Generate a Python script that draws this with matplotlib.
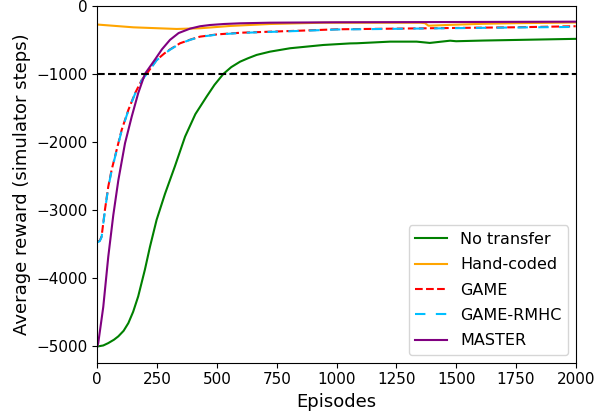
import numpy as np
import matplotlib
matplotlib.use("Agg")
import matplotlib.pyplot as plt

# ---- data ----
ep_notransfer = [0, 25, 46, 70, 88, 110, 130, 150, 171, 199, 220, 248, 283, 325, 367, 410, 457, 490, 527, 560, 597, 630, 666, 722, 806, 945, 1057, 1085, 1224, 1335, 1390, 1475, 1500, 1614, 1753, 2000]
val_notransfer = [-5000, -4985, -4950, -4900, -4851, -4770, -4656, -4490, -4265, -3873, -3540, -3141, -2760, -2350, -1920, -1590, -1333, -1160, -1000, -900, -820, -770, -721, -673, -623, -575, -552, -550, -526, -526, -545, -512, -520, -510, -501, -485]

ep_handcoded = [0, 151, 332, 429, 555, 722, 945, 1100, 1350, 1370, 1384, 1475, 1614, 1753, 2000]
val_handcoded = [-275, -316, -340, -330, -296, -267, -248, -248, -248, -255, -292, -280, -264, -255, -245]

ep_game = [0, 10, 18, 32, 46, 60, 81, 102, 130, 158, 186, 206, 248, 280, 304, 346, 390, 429, 500, 600, 722, 850, 1000, 1250, 1500, 1750, 2000]
val_game = [-3460, -3450, -3385, -2994, -2652, -2408, -2114, -1821, -1528, -1283, -1088, -1000, -795, -700, -640, -550, -495, -453, -420, -395, -380, -365, -345, -335, -325, -315, -300]

ep_rmhc = [0, 10, 18, 32, 46, 60, 81, 102, 130, 158, 186, 206, 248, 280, 304, 346, 390, 429, 500, 600, 722, 850, 1000, 1250, 1500, 1750, 2000]
val_rmhc = [-3470, -3455, -3395, -3005, -2665, -2418, -2124, -1830, -1535, -1290, -1093, -1004, -800, -705, -645, -553, -498, -456, -423, -398, -383, -368, -348, -338, -328, -318, -310]

ep_master = [0, 4, 25, 46, 67, 88, 116, 144, 171, 199, 241, 270, 304, 340, 388, 430, 471, 530, 597, 722, 1000, 1500, 2000]
val_master = [-5000, -4950, -4420, -3680, -3070, -2560, -2016, -1626, -1283, -1000, -790, -640, -500, -400, -335, -300, -282, -267, -257, -248, -242, -238, -233]

threshold = -1000
x_ticks = [0, 250, 500, 750, 1000, 1250, 1500, 1750, 2000]
y_ticks = [0, -1000, -2000, -3000, -4000, -5000]

fig = plt.figure(figsize=(5.95, 4.17), dpi=100)
ax = fig.add_axes([0.1635, 0.1302, 0.8041, 0.8559])

ax.plot(ep_notransfer, val_notransfer, color="green", lw=1.5, label="No transfer")
ax.plot(ep_handcoded, val_handcoded, color="orange", lw=1.5, label="Hand-coded")
ax.plot(ep_game, val_game, color="red", lw=1.5, ls="--", label="GAME")
ax.plot(ep_rmhc, val_rmhc, color="deepskyblue", lw=1.5, ls=(0, (5, 5)), label="GAME-RMHC")
ax.plot(ep_master, val_master, color="purple", lw=1.5, label="MASTER")
ax.axhline(threshold, color="black", ls="--", lw=1.5)

ax.set_xlim(0, 2000)
ax.set_ylim(-5238, 0)
ax.set_xticks(x_ticks)
ax.set_yticks(y_ticks)
ax.tick_params(labelsize=11)
ax.set_xlabel("Episodes", fontsize=13)
ax.set_ylabel("Average reward (simulator steps)", fontsize=13)
ax.legend(loc="lower right", fontsize=11.5, labelspacing=0.65)

fig.savefig("out.png", dpi=100)
